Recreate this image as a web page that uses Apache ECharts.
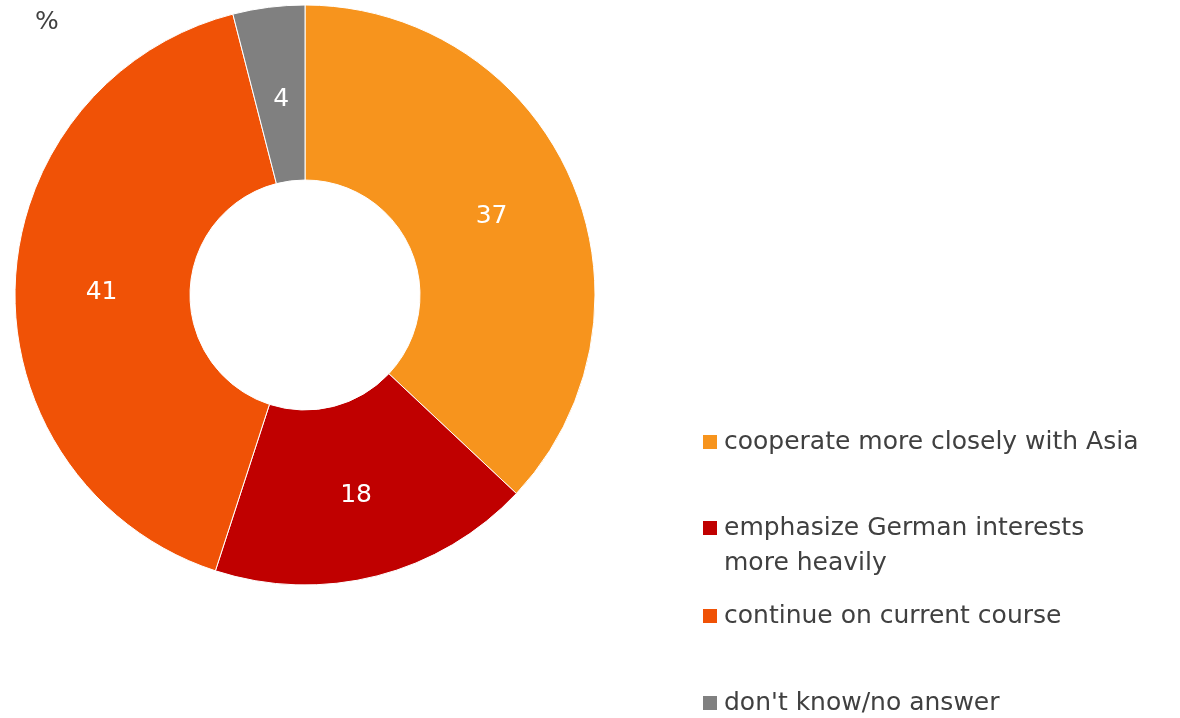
<!DOCTYPE html>
<html>
<head>
<meta charset="utf-8">
<script src="https://cdn.jsdelivr.net/npm/echarts@6/dist/echarts.min.js"></script>
<style>
html,body{margin:0;padding:0;background:#fff;}
#chart{width:1180px;height:718px;}
</style>
</head>
<body>
<div id="chart"></div>
<script>
var categories = ['cooperate more closely with Asia', 'emphasize German interests more heavily', 'continue on current course', "don't know/no answer"];
var values = [37, 18, 41, 4];
var colors = ['#F7941D', '#C00000', '#F05206', '#808080'];
var legendTops = [427, 513, 601, 688];
var FONT = '"DejaVu Sans", Verdana, sans-serif';

var chart = echarts.init(document.getElementById('chart'), null, {renderer: 'canvas'});

var legends = categories.map(function (c, i) {
  return {
    data: [c],
    left: 703,
    top: legendTops[i],
    padding: 0,
    orient: 'vertical',
    icon: 'rect',
    itemWidth: 14,
    itemHeight: 14,
    itemStyle: {borderWidth: 0},
    selectedMode: false,
    formatter: function (n) { return n === categories[1] ? 'emphasize German interests' : n; },
    textStyle: {fontFamily: FONT, fontSize: 25, color: '#404040', lineHeight: 30, padding: [0, 0, 0, 2]}
  };
});

var labelOffsets = [[-2, 3], [0, 1], [2, 4], [2, 8]];

chart.setOption({
  animation: false,
  color: colors,
  legend: legends,
  graphic: [
    {type: 'text', left: 35, top: 10, style: {text: '%', font: '25px ' + FONT, fill: '#404040'}},
    {type: 'text', left: 724, top: 551, style: {text: 'more heavily', font: '25px ' + FONT, fill: '#404040'}}
  ],
  series: [{
    type: 'pie',
    center: [305, 295],
    radius: [115, 290],
    startAngle: 90,
    clockwise: true,
    avoidLabelOverlap: false,
    label: {
      show: true,
      position: 'inside',
      formatter: '{c}',
      color: '#ffffff',
      fontSize: 25,
      fontFamily: FONT
    },
    labelLine: {show: false},
    itemStyle: {borderColor: '#ffffff', borderWidth: 1},
    emphasis: {disabled: true},
    data: categories.map(function (c, i) {
      return {name: c, value: values[i], label: {offset: labelOffsets[i]}};
    })
  }]
});
</script>
</body>
</html>
